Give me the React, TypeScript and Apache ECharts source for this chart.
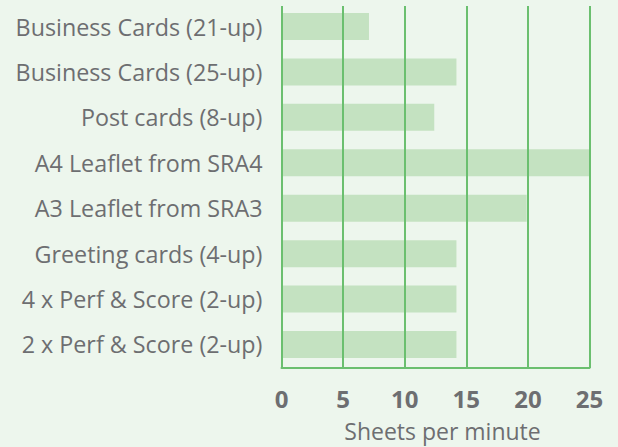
import React, { useEffect, useRef } from "react";
import * as echarts from "echarts";

const categories = [
  "Business Cards (21-up)",
  "Business Cards (25-up)",
  "Post cards (8-up)",
  "A4 Leaflet from SRA4",
  "A3 Leaflet from SRA3",
  "Greeting cards (4-up)",
  "4 x Perf & Score (2-up)",
  "2 x Perf & Score (2-up)",
];
const sheetsPerMinute = [7.1, 14.2, 12.4, 25, 19.9, 14.2, 14.2, 14.2];
const xTicks = { min: 0, max: 25, interval: 5 };
const xAxisName = "Sheets per minute";

const LINE = "#6bbf6f";
const BAR = "#c4e2c1";
const BG = "#edf6ed";
const TEXT = "#6d6e71";
const FONT = "Open Sans";

export default function App() {
  const ref = useRef<HTMLDivElement>(null);
  useEffect(() => {
    if (!ref.current) return;
    const chart = echarts.init(ref.current, undefined, { renderer: "svg" });
    chart.setOption({
      animation: false,
      backgroundColor: BG,
      grid: [
        { left: 281.5, right: 28.5, top: 6, bottom: 68, containLabel: false },
        { left: 281.5, right: 28.5, top: 3.8, height: 363.4, containLabel: false },
      ],
      xAxis: [
        {
          gridIndex: 0,
          type: "value",
          min: xTicks.min,
          max: xTicks.max,
          interval: xTicks.interval,
          z: 10,
          axisLine: { show: true, lineStyle: { color: LINE, width: 2 } },
          axisTick: { show: false },
          splitLine: { show: true, showMinLine: true, showMaxLine: true, lineStyle: { color: LINE, width: 2 } },
          axisLabel: { color: TEXT, fontFamily: FONT, fontWeight: "bold", fontSize: 24, margin: 18 },
          name: xAxisName,
          nameLocation: "middle",
          nameGap: 51,
          nameTextStyle: { color: TEXT, fontFamily: FONT, fontSize: 23, padding: [0, 0, 0, 14] },
        },
        {
          gridIndex: 1,
          type: "value",
          min: xTicks.min,
          max: xTicks.max,
          show: false,
        },
      ],
      yAxis: [
        {
          gridIndex: 0,
          type: "value",
          show: false,
        },
        {
          gridIndex: 1,
          type: "category",
          inverse: true,
          data: categories,
          axisLine: { show: false },
          axisTick: { show: false },
          splitLine: { show: false },
          axisLabel: { color: TEXT, fontFamily: FONT, fontSize: 23.3, margin: 19 },
        },
      ],
      series: [
        {
          type: "bar",
          xAxisIndex: 1,
          yAxisIndex: 1,
          data: sheetsPerMinute,
          barWidth: 27,
          itemStyle: { color: BAR },
          z: 2,
        },
      ],
    });
    return () => chart.dispose();
  }, []);
  return (
    <div
      ref={ref}
      style={{ width: 618, height: 447, position: "absolute", left: 0, top: 0 }}
    />
  );
}
